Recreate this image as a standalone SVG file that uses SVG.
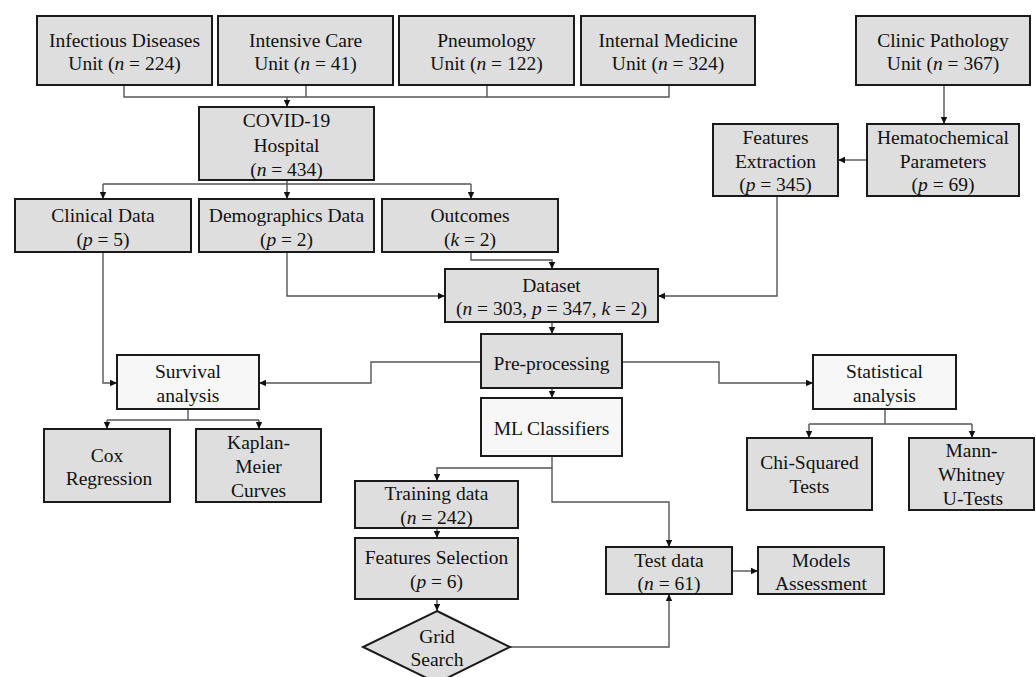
<svg xmlns="http://www.w3.org/2000/svg" width="1036" height="677" viewBox="0 0 1036 677">
<style>
.box{fill:#dedede;stroke:#1a1a1a;stroke-width:2}
.lbox{fill:#f7f7f7;stroke:#1a1a1a;stroke-width:2}
text{font-family:"Liberation Serif","Times New Roman",serif;font-size:19.5px;fill:#111;text-anchor:middle}
.i{font-style:italic}
.c{fill:none;stroke:#555;stroke-width:1.4}
.a{marker-end:url(#arr)}
</style>
<defs>
<marker id="arr" markerUnits="userSpaceOnUse" markerWidth="8" markerHeight="8" refX="7" refY="4" orient="auto">
<path d="M0,0.8 L7,4 L0,7.2 Z" fill="#111"/>
</marker>
</defs>
<rect width="1036" height="677" fill="#fff"/>
<g id="connectors">
<path class="c" d="M124,85 V97 H669 V85"/>
<path class="c" d="M306,85 V97"/>
<path class="c" d="M487,85 V97"/>
<path class="c a" d="M287,97 V107"/>
<path class="c" d="M287,180 V184"/>
<path class="c" d="M103,184 H471"/>
<path class="c a" d="M103,184 V199"/>
<path class="c a" d="M287,184 V199"/>
<path class="c a" d="M471,184 V199"/>
<path class="c a" d="M944,85 V124"/>
<path class="c a" d="M867,160 H838"/>
<path class="c a" d="M777,196 V296 H658"/>
<path class="c a" d="M287,252 V296 H445"/>
<path class="c a" d="M471,252 V260 H552 V269"/>
<path class="c a" d="M552,322 V334"/>
<path class="c a" d="M552,388 V398"/>
<path class="c a" d="M481,362 H371 V383 H259"/>
<path class="c a" d="M622,362 H719 V383 H813"/>
<path class="c a" d="M103,252 V383 H117"/>
<path class="c" d="M188,409 V420"/>
<path class="c" d="M107,420 H259"/>
<path class="c a" d="M107,420 V429"/>
<path class="c a" d="M259,420 V429"/>
<path class="c" d="M885,409 V424"/>
<path class="c" d="M809,424 H972"/>
<path class="c a" d="M809,424 V438"/>
<path class="c a" d="M972,424 V438"/>
<path class="c a" d="M552,456 V468 H437 V481"/>
<path class="c a" d="M552,468 V502 H669 V547"/>
<path class="c a" d="M437,528 V538"/>
<path class="c a" d="M437,599 V611"/>
<path class="c a" d="M510,647 H669 V594"/>
<path class="c a" d="M732,571 H758"/>
</g>
<g id="infectious"><rect class="box" x="37" y="16" width="175" height="69"/><text x="124.5" y="47">Infectious Diseases</text><text x="124.5" y="70">Unit (<tspan class="i">n</tspan> = 224)</text></g>
<g id="intensive"><rect class="box" x="218" y="16" width="175" height="69"/><text x="305.5" y="47">Intensive Care</text><text x="305.5" y="70">Unit (<tspan class="i">n</tspan> = 41)</text></g>
<g id="pneumology"><rect class="box" x="399" y="16" width="175" height="69"/><text x="486.5" y="47">Pneumology</text><text x="486.5" y="70">Unit (<tspan class="i">n</tspan> = 122)</text></g>
<g id="internal"><rect class="box" x="581" y="16" width="174" height="69"/><text x="668" y="47">Internal Medicine</text><text x="668" y="70">Unit (<tspan class="i">n</tspan> = 324)</text></g>
<g id="clinicpath"><rect class="box" x="856" y="16" width="174" height="69"/><text x="943" y="47">Clinic Pathology</text><text x="943" y="70">Unit (<tspan class="i">n</tspan> = 367)</text></g>
<g id="covid"><rect class="box" x="199" y="107" width="175" height="73"/><text x="286.5" y="127">COVID-19</text><text x="286.5" y="151.5">Hospital</text><text x="286.5" y="176">(<tspan class="i">n</tspan> = 434)</text></g>
<g id="featext"><rect class="box" x="713" y="124" width="125" height="72"/><text x="775.5" y="144">Features</text><text x="775.5" y="167.5">Extraction</text><text x="775.5" y="191">(<tspan class="i">p</tspan> = 345)</text></g>
<g id="hemato"><rect class="box" x="867" y="124" width="152" height="72"/><text x="943" y="144">Hematochemical</text><text x="943" y="167.5">Parameters</text><text x="943" y="191">(<tspan class="i">p</tspan> = 69)</text></g>
<g id="clinical"><rect class="box" x="15" y="199" width="176" height="53"/><text x="103" y="222">Clinical Data</text><text x="103" y="246">(<tspan class="i">p</tspan> = 5)</text></g>
<g id="demographics"><rect class="box" x="199" y="199" width="175" height="53"/><text x="286.5" y="222">Demographics Data</text><text x="286.5" y="246">(<tspan class="i">p</tspan> = 2)</text></g>
<g id="outcomes"><rect class="box" x="382" y="199" width="176" height="53"/><text x="470" y="222">Outcomes</text><text x="470" y="246">(<tspan class="i">k</tspan> = 2)</text></g>
<g id="dataset"><rect class="box" x="445" y="269" width="213" height="53"/><text x="551.5" y="291.5">Dataset</text><text x="551.5" y="315">(<tspan class="i">n</tspan> = 303, <tspan class="i">p</tspan> = 347, <tspan class="i">k</tspan> = 2)</text></g>
<g id="preprocessing"><rect class="box" x="481" y="334" width="141" height="54"/><text x="551.5" y="369.5">Pre-processing</text></g>
<g id="ml"><rect class="lbox" x="481" y="398" width="141" height="58"/><text x="551.5" y="435">ML Classifiers</text></g>
<g id="survival"><rect class="lbox" x="117" y="355" width="142" height="54"/><text x="188" y="378">Survival</text><text x="188" y="402">analysis</text></g>
<g id="statistical"><rect class="lbox" x="813" y="355" width="143" height="54"/><text x="884.5" y="378">Statistical</text><text x="884.5" y="402">analysis</text></g>
<g id="cox"><rect class="box" x="44" y="429" width="126" height="73"/><text x="107" y="461.5">Cox</text><text x="109" y="485">Regression</text></g>
<g id="kaplan"><rect class="box" x="196" y="429" width="125" height="73"/><text x="258.5" y="449">Kaplan-</text><text x="258.5" y="473">Meier</text><text x="258.5" y="497">Curves</text></g>
<g id="chi"><rect class="box" x="747" y="438" width="125" height="72"/><text x="809.5" y="468.5">Chi-Squared</text><text x="809.5" y="492.5">Tests</text></g>
<g id="mann"><rect class="box" x="909" y="438" width="125" height="72"/><text x="971.5" y="457">Mann-</text><text x="971.5" y="481">Whitney</text><text x="973" y="505">U-Tests</text></g>
<g id="training"><rect class="box" x="355" y="481" width="163" height="47"/><text x="436.5" y="500">Training data</text><text x="436.5" y="524">(<tspan class="i">n</tspan> = 242)</text></g>
<g id="featsel"><rect class="box" x="355" y="538" width="163" height="61"/><text x="436.5" y="564">Features Selection</text><text x="436.5" y="588">(<tspan class="i">p</tspan> = 6)</text></g>
<g id="grid"><path class="box" d="M437,611 L510,647 L437,683 L363,647 Z"/><text x="437" y="643">Grid</text><text x="437" y="666">Search</text></g>
<g id="testdata"><rect class="box" x="606" y="547" width="126" height="47"/><text x="669" y="566.5">Test data</text><text x="669" y="590">(<tspan class="i">n</tspan> = 61)</text></g>
<g id="models"><rect class="box" x="758" y="547" width="126" height="47"/><text x="821" y="566.5">Models</text><text x="821" y="590">Assessment</text></g>
</svg>
